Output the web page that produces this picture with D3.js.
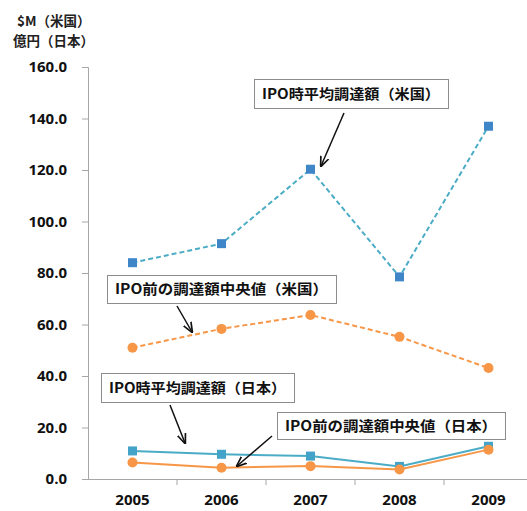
<!DOCTYPE html>
<html><head><meta charset="utf-8">
<script src="https://cdn.jsdelivr.net/npm/d3@7"></script>
<style>
html,body{margin:0;padding:0;background:#fff;}
text{font-family:"Open Sans","Noto Sans CJK JP",sans-serif;font-weight:bold;}
</style></head>
<body><svg id="c" width="527" height="511"></svg>
<script>
const years = ["2005","2006","2007","2008","2009"];
const usAvg = [84.0, 91.4, 120.3, 78.5, 137.0];
const usMedian = [51.0, 58.3, 63.7, 55.2, 43.1];
const jpAvg = [10.9, 9.6, 8.9, 4.9, 12.7];
const jpMedian = [6.4, 4.4, 5.0, 3.7, 11.4];
const yTicks = [0,20,40,60,80,100,120,140,160];
const unitLabels = ["$M（米国）","億円（日本）"];
const callouts = [
  {text:"IPO時平均調達額（米国）", box:[254,79,448,108], from:[344,113], to:[321,166]},
  {text:"IPO前の調達額中央値（米国）", box:[107,275,336,303], from:[177,306], to:[192,332]},
  {text:"IPO時平均調達額（日本）", box:[101,373,294,402], from:[170,405], to:[185,443]},
  {text:"IPO前の調達額中央値（日本）", box:[277,412,505,439], from:[272,436], to:[237,466]}
];

const svg = d3.select("#c");
const x = d3.scaleBand().domain(years).range([88,533]);
const y = d3.scaleLinear().domain([0,160]).range([479,67]);
const cx = d => x(d) + x.bandwidth()/2;

const defs = svg.append("defs");
defs.append("marker").attr("id","arr").attr("viewBox","0 0 10 10").attr("refX",9).attr("refY",5)
  .attr("markerWidth",7).attr("markerHeight",7).attr("orient","auto")
  .append("path").attr("d","M0,1 L10,5 L0,9").attr("fill","none").attr("stroke","#111").attr("stroke-width",1.6);

// y axis
const ya = svg.append("g").attr("transform","translate(88,0)")
  .call(d3.axisLeft(y).tickValues(yTicks).tickFormat(d3.format(".1f")).tickSizeOuter(0).tickSize(6));
ya.select(".domain").attr("stroke","#a6a6a6");
ya.selectAll(".tick line").attr("stroke","#a6a6a6");
ya.selectAll(".tick text").attr("x",-21).attr("font-size",15).attr("fill","#111")
  .style("font-family","'Open Sans',sans-serif").attr("font-weight","bold");

// x axis
const xa = svg.append("g").attr("transform","translate(0,479)")
  .call(d3.axisBottom(x).tickSize(0).tickSizeOuter(0));
xa.select(".domain").attr("stroke","#a6a6a6").attr("d","M82,0.5H533");
xa.selectAll(".tick text").attr("y",15).attr("font-size",15).attr("fill","#111")
  .style("font-family","'Open Sans',sans-serif").attr("font-weight","bold");
svg.append("g").selectAll("line").data(years.slice(1)).join("line")
  .attr("x1",d=>x(d)).attr("x2",d=>x(d)).attr("y1",479).attr("y2",485).attr("stroke","#a6a6a6");

// unit labels
svg.selectAll("text.unit").data(unitLabels).join("text").attr("class","unit")
  .attr("x",(d,i)=> i===0?17:13).attr("y",(d,i)=>26+i*20).attr("font-size",13.5).attr("fill","#222")
  .style("font-family","'Noto Sans CJK JP',sans-serif").text(d=>d);

const line = d3.line().x((d,i)=>cx(years[i])).y(d=>y(d));
const series = [
  {v:usAvg, color:"#4bacc6", dash:"5,3", marker:"sq", mcolor:"#3f86c8"},
  {v:usMedian, color:"#f79646", dash:"5,3", marker:"ci", mcolor:"#f79646"},
  {v:jpAvg, color:"#4bacc6", dash:null, marker:"sq", mcolor:"#43a3c8"},
  {v:jpMedian, color:"#f79646", dash:null, marker:"ci", mcolor:"#f79646"}
];
series.forEach(s=>{
  svg.append("path").attr("d",line(s.v)).attr("fill","none").attr("stroke",s.color)
    .attr("stroke-width",2).attr("stroke-dasharray",s.dash);
  const g = svg.append("g");
  if(s.marker==="sq"){
    g.selectAll("rect").data(s.v).join("rect")
      .attr("x",(d,i)=>cx(years[i])-4.5).attr("y",d=>y(d)-4.5).attr("width",9).attr("height",9)
      .attr("fill",s.mcolor);
  } else {
    g.selectAll("circle").data(s.v).join("circle")
      .attr("cx",(d,i)=>cx(years[i])).attr("cy",d=>y(d)).attr("r",5).attr("fill",s.mcolor);
  }
});

// callouts
callouts.forEach(c=>{
  const [x0,y0,x1,y1]=c.box;
  svg.append("rect").attr("x",x0+0.5).attr("y",y0+0.5).attr("width",x1-x0).attr("height",y1-y0)
    .attr("fill","#fff").attr("stroke","#8c8c8c").attr("stroke-width",1);
  svg.append("text").attr("x",(x0+x1)/2).attr("y",(y0+y1)/2+5).attr("text-anchor","middle")
    .attr("font-size",14).attr("fill","#111").attr("textLength",x1-x0-16).attr("lengthAdjust","spacingAndGlyphs")
    .style("font-family","'Noto Sans CJK JP',sans-serif").text(c.text);
  svg.append("line").attr("x1",c.from[0]).attr("y1",c.from[1]).attr("x2",c.to[0]).attr("y2",c.to[1])
    .attr("stroke","#111").attr("stroke-width",1.5).attr("marker-end","url(#arr)");
});
</script></body></html>
